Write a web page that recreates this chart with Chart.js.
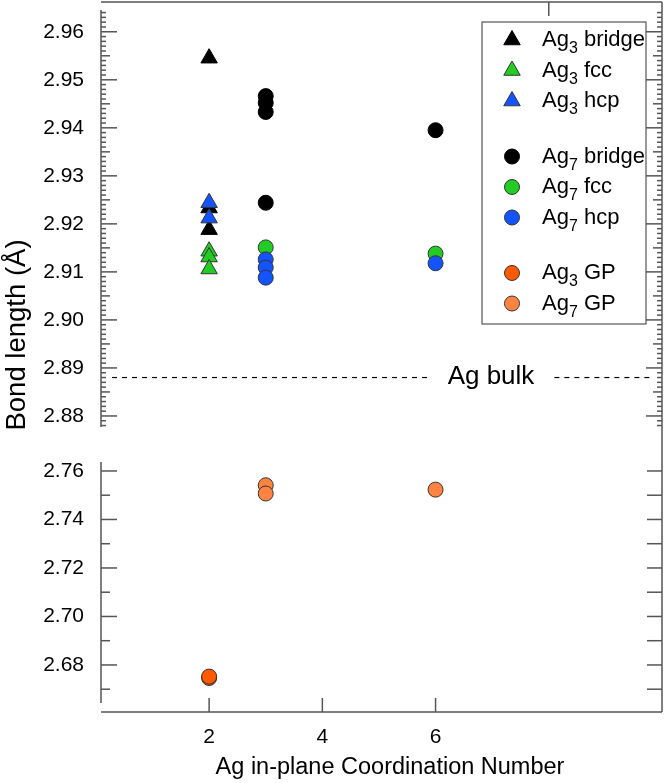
<!DOCTYPE html>
<html>
<head>
<meta charset="utf-8">
<script src="https://cdn.jsdelivr.net/npm/chart.js@4.4.1/dist/chart.umd.min.js"></script>
<style>
  html, body { margin: 0; padding: 0; background: #fff; }
  #wrap { position: relative; width: 667px; height: 783px; }
</style>
</head>
<body>
<div id="wrap"><canvas id="bondChart"></canvas></div>
<script>
const FONT = "'Liberation Sans', Arial, sans-serif";

// axis ticks and limits
const xTicks = [2, 4, 6];
const xTopTicks = [8];
const topTicks = [2.88, 2.89, 2.90, 2.91, 2.92, 2.93, 2.94, 2.95, 2.96];
const botTicks = [2.68, 2.70, 2.72, 2.74, 2.76];
const xRange = [0.09, 10.0];
const topRange = [2.8777, 2.9662];
const botRange = [2.6606, 2.7637];
const agBulk = 2.888;

// x = Ag in-plane coordination number, y = bond length (Å)
const seriesNames = ["Ag3 bridge", "Ag3 fcc", "Ag3 hcp", "Ag7 bridge", "Ag7 fcc", "Ag7 hcp", "Ag3 GP", "Ag7 GP"];
const ag3BridgeX = [2, 2, 2];
const ag3BridgeY = [2.9545, 2.9233, 2.9188];
const ag3FccX = [2, 2, 2];
const ag3FccY = [2.9143, 2.9131, 2.9106];
const ag3HcpX = [2, 2];
const ag3HcpY = [2.9244, 2.9212];
const ag7BridgeX = [3, 3, 3, 3, 6];
const ag7BridgeY = [2.9466, 2.9452, 2.9433, 2.9244, 2.9395];
const ag7FccX = [3, 6];
const ag7FccY = [2.9151, 2.9138];
const ag7HcpX = [3, 3, 3, 6];
const ag7HcpY = [2.9126, 2.9109, 2.9088, 2.9118];
const ag3GpX = [2, 2];
const ag3GpY = [2.6746, 2.6752];
const ag7GpX = [3, 3, 6];
const ag7GpY = [2.7541, 2.7507, 2.7523];

const series = [
  { xs: ag3BridgeX, ys: ag3BridgeY, axis: "yTop", style: "triangle", color: "#000000" },
  { xs: ag3FccX, ys: ag3FccY, axis: "yTop", style: "triangle", color: "#22cc22" },
  { xs: ag3HcpX, ys: ag3HcpY, axis: "yTop", style: "triangle", color: "#1454ff" },
  { xs: ag7BridgeX, ys: ag7BridgeY, axis: "yTop", style: "circle", color: "#000000" },
  { xs: ag7FccX, ys: ag7FccY, axis: "yTop", style: "circle", color: "#22cc22" },
  { xs: ag7HcpX, ys: ag7HcpY, axis: "yTop", style: "circle", color: "#1454ff" },
  { xs: ag3GpX, ys: ag3GpY, axis: "yBot", style: "circle", color: "#ff5a00" },
  { xs: ag7GpX, ys: ag7GpY, axis: "yBot", style: "circle", color: "#ff8442" },
];

const datasets = series.map((s, i) => ({
  label: seriesNames[i],
  data: s.xs.map((x, k) => ({ x, y: s.ys[k] })),
  yAxisID: s.axis,
  pointStyle: s.style,
  pointRadius: s.style === "triangle" ? 9.5 : 7.5,
  pointHoverRadius: s.style === "triangle" ? 9.5 : 7.5,
  backgroundColor: s.color,
  borderColor: s.color === "#000000" ? "#000" : "#333",
  borderWidth: 1,
  order: series.length - i,
}));

function drawMarker(ctx, style, r, x, y, fill, stroke) {
  ctx.beginPath();
  if (style === "triangle") {
    for (let k = 0; k < 3; k++) {
      const ang = (k * 2 * Math.PI) / 3;
      const px = x + Math.sin(ang) * r;
      const py = y - Math.cos(ang) * r;
      if (k) ctx.lineTo(px, py);
      else ctx.moveTo(px, py);
    }
    ctx.closePath();
  } else {
    ctx.arc(x, y, r, 0, Math.PI * 2);
  }
  ctx.fillStyle = fill;
  ctx.fill();
  ctx.strokeStyle = stroke;
  ctx.lineWidth = 1;
  ctx.stroke();
}

// frame, inward ticks, broken axis, bulk reference line and axis titles
const framePlugin = {
  id: "frame",
  beforeDatasetsDraw(chart) {
    const { ctx, chartArea: a, scales } = chart;
    const yTop = scales.yTop;
    const yBot = scales.yBot;
    ctx.save();
    ctx.strokeStyle = "#555";
    ctx.lineWidth = 1.5;
    const line = (x1, y1, x2, y2) => {
      ctx.beginPath();
      ctx.moveTo(x1, y1);
      ctx.lineTo(x2, y2);
      ctx.stroke();
    };
    line(a.left, a.top, a.right, a.top);
    line(a.right, a.top, a.right, a.bottom);
    line(a.left, a.bottom, a.right, a.bottom);
    line(a.left, a.top + 8, a.left, yTop.bottom);
    line(a.left, yBot.top, a.left, a.bottom - 9);

    for (let i = Math.ceil(topRange[0] * 1000); i <= Math.floor(topRange[1] * 1000); i++) {
      const py = yTop.getPixelForValue(i / 1000);
      if (py < a.top + 8) continue;
      const len = i % 10 === 0 ? 16 : i % 5 === 0 ? 9 : 5;
      line(a.left, py, a.left + len, py);
      line(a.right, py, a.right - len, py);
    }
    for (let i = Math.ceil(botRange[0] * 100); i <= Math.floor(botRange[1] * 100); i++) {
      const py = yBot.getPixelForValue(i / 100);
      if (py > a.bottom - 9) continue;
      line(a.left, py, a.left + (i % 2 === 0 ? 16 : 9), py);
      line(a.right, py, a.right - 15, py);
    }
    xTicks.forEach((v) => {
      const px = scales.x.getPixelForValue(v);
      line(px, a.bottom, px, a.bottom - 14);
    });
    xTopTicks.forEach((v) => {
      const px = scales.x.getPixelForValue(v);
      line(px, a.top, px, a.top + 14);
    });

    // Ag bulk dashed line
    const by = yTop.getPixelForValue(agBulk);
    const label = "Ag bulk";
    ctx.font = `26px ${FONT}`;
    const cx = 491;
    const tw = ctx.measureText(label).width;
    ctx.strokeStyle = "#000";
    ctx.lineWidth = 1.2;
    ctx.setLineDash([5, 5]);
    line(a.left + 11, by, cx - tw / 2 - 16, by);
    line(cx + tw / 2 + 20, by, a.right - 10, by);
    ctx.setLineDash([]);
    ctx.fillStyle = "#000";
    ctx.textAlign = "center";
    ctx.textBaseline = "alphabetic";
    ctx.fillText(label, cx, by + 6.5);
    ctx.restore();
  },
  afterDraw(chart) {
    const { ctx } = chart;
    ctx.save();
    ctx.fillStyle = "#000";
    ctx.textAlign = "center";
    ctx.textBaseline = "middle";
    ctx.font = `23.5px ${FONT}`;
    ctx.fillText("Ag in-plane Coordination Number", 390, 768);
    ctx.translate(17, 335);
    ctx.rotate(-Math.PI / 2);
    ctx.font = `27.5px ${FONT}`;
    ctx.fillText("Bond length (Å)", 0, 0);
    ctx.restore();
  },
};

// legend box with subscripted cluster sizes and gaps between groups
const legendPlugin = {
  id: "boxLegend",
  afterDatasetsDraw(chart) {
    const { ctx } = chart;
    const box = { x: 482, y: 22, w: 164, h: 302 };
    ctx.save();
    ctx.fillStyle = "#fff";
    ctx.fillRect(box.x, box.y, box.w, box.h);
    ctx.strokeStyle = "#555";
    ctx.lineWidth = 1.2;
    ctx.strokeRect(box.x, box.y, box.w, box.h);
    const groups = [[0, 1, 2], [3, 4, 5], [6, 7]];
    groups.forEach((group, g) => {
      group.forEach((idx, r) => {
        const y = box.y + 18 + g * 116.5 + r * 30.5;
        const ds = chart.data.datasets[idx];
        drawMarker(ctx, ds.pointStyle, ds.pointRadius, 512, y, ds.backgroundColor, ds.borderColor);
        const m = seriesNames[idx].match(/^Ag(\d)(.*)$/);
        let tx = 542;
        const base = y + 6;
        ctx.fillStyle = "#000";
        ctx.textAlign = "left";
        ctx.textBaseline = "alphabetic";
        ctx.font = `22px ${FONT}`;
        ctx.fillText("Ag", tx, base);
        tx += ctx.measureText("Ag").width;
        ctx.font = `16px ${FONT}`;
        ctx.fillText(m[1], tx, base + 7);
        tx += ctx.measureText(m[1]).width;
        ctx.font = `22px ${FONT}`;
        ctx.fillText(m[2], tx, base);
      });
    });
    ctx.restore();
  },
};

const yTickFont = { family: FONT, size: 21 };
const fitY = (s) => {
  s.width = 101;
  s.paddingTop = 0;
  s.paddingBottom = 0;
};

new Chart(document.getElementById("bondChart"), {
  type: "scatter",
  data: { datasets },
  options: {
    responsive: true,
    maintainAspectRatio: false,
    animation: false,
    layout: { autoPadding: false, padding: { top: 2, right: 5, left: 0, bottom: 0 } },
    plugins: { legend: { display: false }, tooltip: { enabled: false } },
    scales: {
      x: {
        type: "linear",
        min: xRange[0],
        max: xRange[1],
        grid: { display: false },
        border: { display: false },
        afterBuildTicks: (s) => { s.ticks = xTicks.map((v) => ({ value: v })); },
        afterFit: (s) => {
          s.height = 71;
          s.paddingLeft = 0;
          s.paddingRight = 0;
        },
        ticks: { font: yTickFont, color: "#000", padding: 5, callback: (v) => String(v) },
      },
      yTop: {
        type: "linear",
        position: "left",
        stack: "bond",
        stackWeight: 425,
        weight: 3,
        min: topRange[0],
        max: topRange[1],
        grid: { display: false },
        border: { display: false },
        afterBuildTicks: (s) => { s.ticks = topTicks.map((v) => ({ value: v })); },
        afterFit: fitY,
        ticks: { font: yTickFont, color: "#000", padding: 9, callback: (v) => v.toFixed(2) },
      },
      yGap: {
        type: "linear",
        position: "left",
        stack: "bond",
        stackWeight: 35,
        weight: 2,
        display: false,
      },
      yBot: {
        type: "linear",
        position: "left",
        stack: "bond",
        stackWeight: 250,
        weight: 1,
        min: botRange[0],
        max: botRange[1],
        grid: { display: false },
        border: { display: false },
        afterBuildTicks: (s) => { s.ticks = botTicks.map((v) => ({ value: v })); },
        afterFit: fitY,
        ticks: { font: yTickFont, color: "#000", padding: 9, callback: (v) => v.toFixed(2) },
      },
    },
  },
  plugins: [framePlugin, legendPlugin],
});
</script>
</body>
</html>
